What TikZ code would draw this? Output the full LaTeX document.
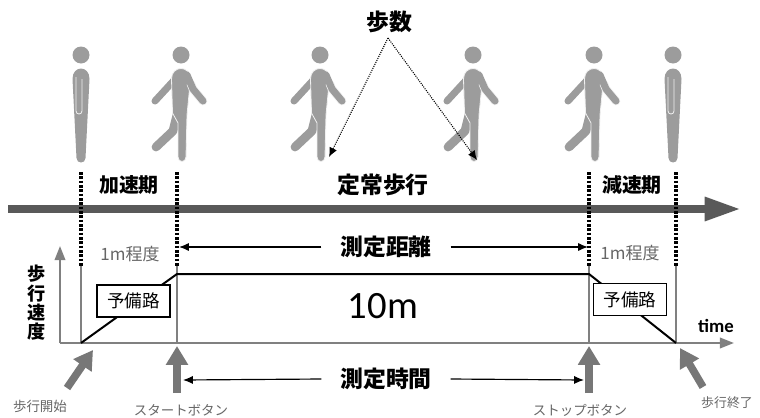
\documentclass[tikz,border=0pt]{standalone}
\usepackage{fontspec}
\setmainfont{Carlito}
\newfontfamily\jp{Noto Sans CJK JP}
\usetikzlibrary{arrows.meta}

\definecolor{figgray}{HTML}{9C9C9C}
\definecolor{arrowgray}{HTML}{595959}
\definecolor{btngray}{HTML}{777777}
\definecolor{axisgray}{HTML}{808080}
\definecolor{labelgray}{HTML}{666666}

% standing person, head centre at (#1,55)
\newcommand{\standman}[1]{%
  \begin{scope}[shift={(#1,55)}]
    \fill[figgray] (0,0) circle (8.5);
    \fill[figgray] (-8.5,24) .. controls (-8.5,10) and (8.5,10) .. (8.5,24)
      -- (4.5,103) .. controls (4.5,109) and (-4.5,109) .. (-4.5,103) -- cycle;
    \draw[white!85!figgray, line width=0.7pt] (-5,22) -- (-5,56)
      .. controls (-5,60) and (1,60) .. (1,56) -- (1,24);
  \end{scope}}

% walking person, head centre at (#1,55)
\newcommand{\walkman}[1]{%
  \begin{scope}[shift={(#1,55)}, line cap=round, line join=round]
    \fill[figgray] (0,0) circle (8.5);
    \draw[figgray, line width=6pt] (-3,21) -- (-26,46);
    \draw[figgray, line width=7.5pt] (-3,56) -- (-8,76) -- (-25,92);
    \filldraw[fill=figgray, draw=white!85!figgray, line width=0.7pt]
      (-9.5,24) .. controls (-9.5,10) and (9.5,10) .. (9.5,24)
      -- (6,60) -- (5,102) .. controls (5,108) and (-3,108) .. (-3,102)
      -- (-3,68) -- (-8.5,58) -- cycle;
    \draw[white!85!figgray, line width=7.4pt] (10,29) -- (12,34) -- (22,46);
    \draw[figgray, line width=6pt] (6,20) -- (12,34) -- (22,46);
  \end{scope}}

\begin{document}
\begin{tikzpicture}[x=0.03cm, y=-0.03cm]
    \tikzstyle{phase_text} = [inner sep=1pt, font=\jp\bfseries\fontsize{17}{17}\selectfont]
    \tikzstyle{big_text} = [inner sep=1pt, font=\jp\bfseries\fontsize{19.5}{20}\selectfont]
    \tikzstyle{gray_text} = [inner sep=1pt, labelgray, font=\jp\fontsize{14.5}{15}\selectfont]
    \tikzstyle{btn_text} = [inner sep=1pt, labelgray, font=\jp\fontsize{11.5}{12}\selectfont]
    \tikzstyle{box_style} = [draw=black, line width=1.3pt, fill=white, inner sep=2pt,
        minimum width=62pt, minimum height=27pt, font=\jp\fontsize{15}{15}\selectfont]
    \tikzstyle{main_arrow} = [-{Triangle[length=31pt, width=19pt]}, arrowgray, line width=6.8pt]
    \tikzstyle{btn_arrow} = [-{Triangle[length=16pt, width=18pt]}, btngray, line width=6.5pt]
    \tikzstyle{axis_arrow} = [-{Triangle[length=12pt, width=9pt]}, axisgray, line width=1.7pt]
    \tikzstyle{thin_arrow} = [-{Latex[length=8.5pt, width=7pt]}, black, line width=1pt]
    \tikzstyle{dot_arrow} = [-{Latex[length=8pt, width=7pt]}, black, line width=0.9pt, densely dotted]
    \tikzstyle{phase_line} = [black, line width=2.6pt, dash pattern=on 2.2pt off 1.5pt]
    \tikzstyle{edge_line} = [axisgray, line width=0.9pt]

    \useasboundingbox (0,0) rectangle (760,417);

    \standman{81}
    \walkman{181}
    \walkman{320}
    \walkman{473}
    \walkman{594}
    \standman{673}

    \node[big_text] (steps) at (389,22) {歩数};
    \coordinate (apex) at (388,38);
    \coordinate (step1) at (329,157);
    \coordinate (step2) at (477,160);
    \draw[dot_arrow] (apex) -- (step1);
    \draw[dot_arrow] (apex) -- (step2);

    \node[phase_text] (accel) at (129,185) {加速期};
    \node[big_text] (steady) at (383,185) {定常歩行};
    \node[phase_text] (decel) at (632,185) {減速期};

    \coordinate (m0) at (8,209);
    \coordinate (m1) at (741,209);
    \draw[main_arrow] (m0) -- (m1);

    \foreach \x in {81,177,589,676} {
        \draw[phase_line] (\x,172) -- (\x,266);
        \draw[edge_line] (\x,266) -- (\x,343);
    }

    \node[gray_text] (pre_len1) at (130,254) {1m程度};
    \node[gray_text] (pre_len2) at (630,253) {1m程度};

    \node[big_text, inner xsep=16pt] (dist) at (386,247) {測定距離};
    \coordinate (d0) at (179,247);
    \coordinate (d1) at (588,247);
    \draw[thin_arrow] (dist.west) -- (d0);
    \draw[thin_arrow] (dist.east) -- (d1);

    \coordinate (o) at (60,343);
    \coordinate (t_end) at (734,343);
    \coordinate (v_end) at (60,246);
    \draw[axis_arrow] (o) -- (t_end);
    \draw[axis_arrow] (o) -- (v_end);
    \node[inner sep=1pt, font=\bfseries\fontsize{16}{16}\selectfont] (time) at (716,326) {time};
    \node[inner sep=1pt, align=center, font=\jp\bfseries\fontsize{15.5}{16.5}\selectfont] (speed) at (37,303) {歩\\行\\速\\度};

    \coordinate (a0) at (81,343);
    \coordinate (a1) at (177,274);
    \coordinate (a2) at (589,274);
    \coordinate (a3) at (676,343);
    \draw[black, line width=1.7pt, line join=round] (a0) -- (a1) -- (a2) -- (a3);

    \node[box_style] (pre1) at (133.5,301) {予備路};
    \node[box_style] (pre2) at (630,299.5) {予備路};

    \node[inner sep=1pt, font=\fontsize{33}{33}\selectfont] (len) at (383,306) {10m};

    \node[big_text, inner xsep=16pt] (meas_t) at (386,379) {測定時間};
    \coordinate (t0) at (183,380);
    \coordinate (t1) at (584,380);
    \draw[thin_arrow] (meas_t.west) -- (t0);
    \draw[thin_arrow] (meas_t.east) -- (t1);

    \coordinate (walk_in0) at (67,388);
    \coordinate (walk_in1) at (93,350);
    \coordinate (start0) at (177,393);
    \coordinate (start1) at (177,346);
    \coordinate (stop0) at (589,393);
    \coordinate (stop1) at (589,346);
    \coordinate (walk_out0) at (703,387);
    \coordinate (walk_out1) at (680,348);
    \draw[btn_arrow] (walk_in0) -- (walk_in1);
    \draw[btn_arrow] (start0) -- (start1);
    \draw[btn_arrow] (stop0) -- (stop1);
    \draw[btn_arrow] (walk_out0) -- (walk_out1);

    \node[btn_text] (begin) at (40,406) {歩行開始};
    \node[btn_text] (start_btn) at (181,410) {スタートボタン};
    \node[btn_text] (stop_btn) at (580,410) {ストップボタン};
    \node[btn_text, font=\jp\fontsize{11}{11}\selectfont] (finish) at (727,403) {歩行終了};
\end{tikzpicture}
\end{document}
